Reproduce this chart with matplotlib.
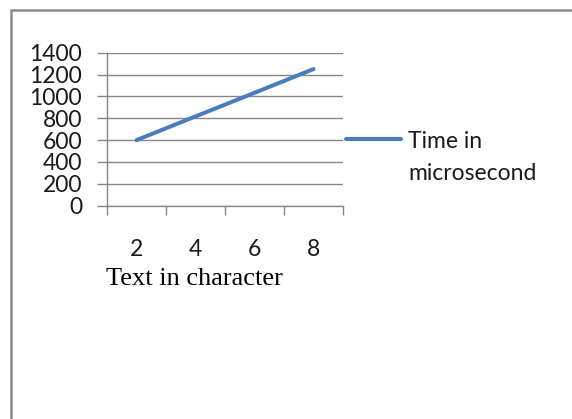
import matplotlib
matplotlib.use("Agg")
import matplotlib.pyplot as plt
from matplotlib.lines import Line2D

# 文字数ごとの処理時間 (マイクロ秒)
text_chars = ["2", "4", "6", "8"]
time_us = [600, 817, 1033, 1250]
y_ticks = [0, 200, 400, 600, 800, 1000, 1200, 1400]

GRID = "#868686"
BLUE = "#4a7ebb"

plt.rcParams["font.family"] = ["Lato", "DejaVu Sans"]

W, H = 572, 419
fig = plt.figure(figsize=(W / 100, H / 100), dpi=100)
fig.patch.set_facecolor("white")

# グラフ枠 (左と上の辺だけ見える)
fx, fy = 10.5 / W, 1 - 10.5 / H
fig.add_artist(Line2D([1.5, fx, fx], [fy, fy, -0.5],
                      transform=fig.transFigure, color="#8c8c8c",
                      linewidth=1.8, solid_joinstyle="miter"))

ax = fig.add_axes([107 / W, 1 - 205.7 / H, 236 / W, 153 / H])

pos = list(range(len(text_chars)))
ax.plot(pos, time_us, color=BLUE, linewidth=2.9, solid_capstyle="round")

ax.set_xlim(-0.5, len(text_chars) - 0.5)
ax.set_ylim(0, 1400)

# 目盛り線はカテゴリの境界、ラベルはカテゴリの中央
ax.set_xticks([p - 0.5 for p in pos] + [len(pos) - 0.5])
ax.set_xticklabels([])
ax.set_xticks(pos, minor=True)
ax.set_xticklabels(text_chars, minor=True, fontsize=16.5)
ax.tick_params(axis="x", which="major", direction="out", length=6.5,
               width=1, color=GRID)
ax.tick_params(axis="x", which="minor", length=0, pad=24, colors="#1a1a1a")

ax.set_yticks(y_ticks)
ax.set_yticklabels([str(v) for v in y_ticks], fontsize=16.5)
ax.tick_params(axis="y", direction="out", length=7, width=1, color=GRID,
               pad=11, labelcolor="#1a1a1a")

ax.grid(axis="y", color=GRID, linewidth=1)
ax.set_axisbelow(True)
for side in ["top", "right"]:
    ax.spines[side].set_visible(False)
for side in ["left", "bottom"]:
    ax.spines[side].set_color(GRID)
    ax.spines[side].set_linewidth(1)

ax.set_xlabel("Text in character", fontsize=19,
              family=["Liberation Serif", "DejaVu Serif"], va="center")
ax.xaxis.set_label_coords((194 - 107) / 236, (205.7 - 279) / 153)

# 凡例: 線は1行目に揃え、2行目は下に置く
leg = ax.legend(["Time in"], loc="center left",
                bbox_to_anchor=(346 / W, 1 - 141 / H),
                bbox_transform=fig.transFigure, frameon=False,
                fontsize=16.5, handlelength=2.4, handletextpad=0.3,
                borderpad=0, borderaxespad=0)
for t in leg.get_texts():
    t.set_color("#1a1a1a")
fig.text(408 / W, 1 - 173 / H, "microsecond", fontsize=16.5,
         color="#1a1a1a", ha="left", va="center")

fig.savefig("out.png", dpi=100, facecolor="white")
